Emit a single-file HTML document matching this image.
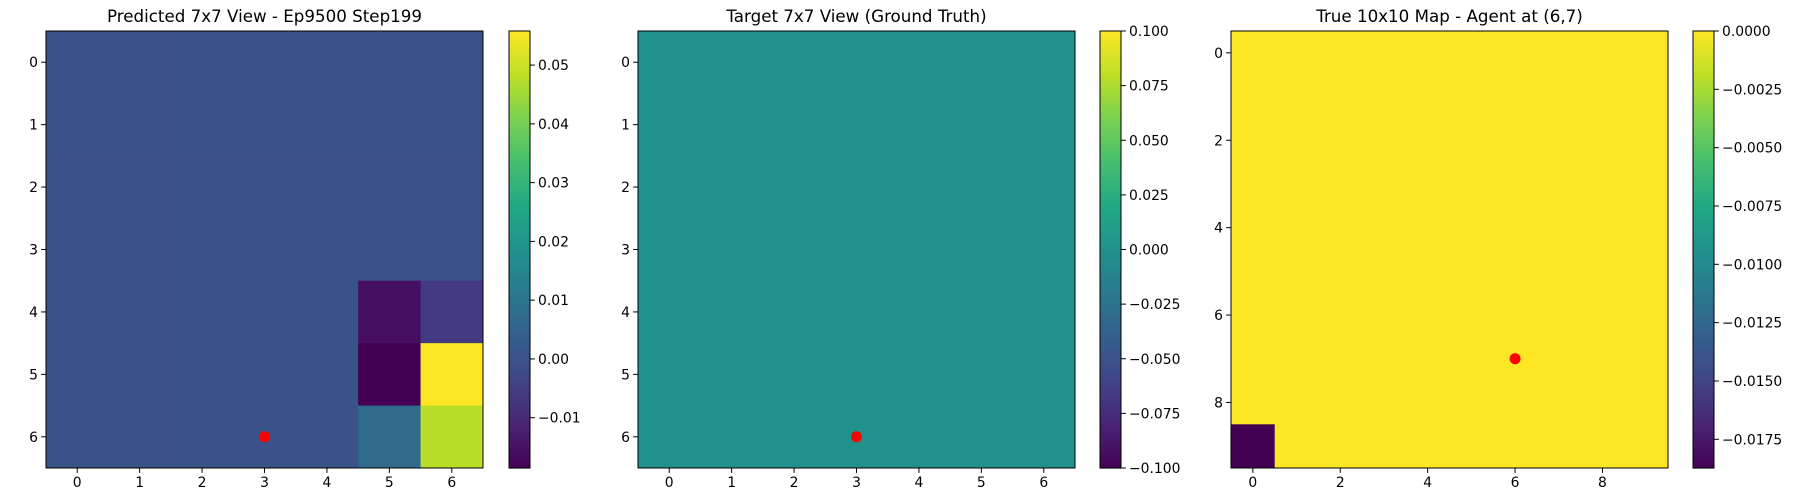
<!DOCTYPE html>
<html><head><meta charset="utf-8"><style>
html,body{margin:0;padding:0;background:#fff}
svg{display:block}
text{font-family:"DejaVu Sans","Liberation Sans",sans-serif;fill:#000}
</style></head><body>
<svg id="fig" width="1800" height="500" viewBox="0 0 1800 500" xmlns="http://www.w3.org/2000/svg"></svg>
<script>
// Panel 1: predicted 7x7 view
const predValues = [
 [0,0,0,0,0,0,0],
 [0,0,0,0,0,0,0],
 [0,0,0,0,0,0,0],
 [0,0,0,0,0,0,0],
 [0,0,0,0,0,-0.0155,-0.006],
 [0,0,0,0,0,-0.0186,0.0558],
 [0,0,0,0,0,0.0072,0.048]
];
const predTicks = [-0.01,0,0.01,0.02,0.03,0.04,0.05];
const predTickLabels = ["−0.01","0.00","0.01","0.02","0.03","0.04","0.05"];
const predAgent = [3,6];
// Panel 2: target 7x7 view
const targetValues = [
 [0,0,0,0,0,0,0],[0,0,0,0,0,0,0],[0,0,0,0,0,0,0],[0,0,0,0,0,0,0],
 [0,0,0,0,0,0,0],[0,0,0,0,0,0,0],[0,0,0,0,0,0,0]
];
const targetTicks = [-0.1,-0.075,-0.05,-0.025,0,0.025,0.05,0.075,0.1];
const targetTickLabels = ["−0.100","−0.075","−0.050","−0.025","0.000","0.025","0.050","0.075","0.100"];
const targetAgent = [3,6];
// Panel 3: true 10x10 map
const mapValues = [];
for (let r=0;r<10;r++){ mapValues.push([0,0,0,0,0,0,0,0,0,0]); }
mapValues[9][0] = -0.01873;
const mapTicks = [-0.0175,-0.015,-0.0125,-0.01,-0.0075,-0.005,-0.0025,0];
const mapTickLabels = ["−0.0175","−0.0150","−0.0125","−0.0100","−0.0075","−0.0050","−0.0025","0.0000"];
const mapAgent = [6,7];

const VIR = ["#440154","#482475","#414487","#355f8d","#2a788e","#21918c","#22a884","#44bf70","#7ad151","#bddf26","#fde725"];
function hex(h){return [1,3,5].map(i=>parseInt(h.substr(i,2),16));}
function viridis(t){
  t=Math.max(0,Math.min(1,t));
  const p=t*10,i=Math.min(9,Math.floor(p)),f=p-i;
  const a=hex(VIR[i]),b=hex(VIR[i+1]);
  return "rgb("+a.map((v,k)=>Math.round(v+(b[k]-v)*f)).join(",")+")";
}
const NS="http://www.w3.org/2000/svg";
const fig=document.getElementById("fig");
function mk(tag,attrs,parent,txt){
  const e=document.createElementNS(NS,tag);
  for(const k in attrs)e.setAttribute(k,attrs[k]);
  if(txt!==undefined)e.textContent=txt;
  (parent||fig).appendChild(e);return e;
}
function panel(o){
  const g=mk("g",{});
  
  
  const n=o.values.length, L=o.x, T=31, S=437, B=T+S, cs=S/n;
  const vmin=o.vmin, vmax=o.vmax;
  const xs=c=>L+(c+0.5)*cs, ys=r=>T+(r+0.5)*cs;
  for(let r=0;r<n;r++)for(let c=0;c<n;c++){
    const rc=mk("rect",{x:L+c*cs,y:T+r*cs,width:cs+0.5,height:cs+0.5,fill:viridis((o.values[r][c]-vmin)/(vmax-vmin))},g);
    
    
  }
  const dot=mk("circle",{cx:xs(o.agent[0]),cy:ys(o.agent[1]),r:5.5,fill:"#ff0000"},g);
  
  
  mk("rect",{x:L,y:T,width:S,height:S,fill:"none",stroke:"#000","stroke-width":1},g);
  const step=o.tickStep;
  for(let i=0;i<n;i+=step){
    mk("line",{x1:xs(i),x2:xs(i),y1:B,y2:B+4.9,stroke:"#000","stroke-width":1},g);
    const tx=mk("text",{x:xs(i),y:B+19,"font-size":"13.9","text-anchor":"middle"},g,String(i));
    
    
    mk("line",{x1:L-4.9,x2:L,y1:ys(i),y2:ys(i),stroke:"#000","stroke-width":1},g);
    const ty=mk("text",{x:L-8,y:ys(i)+5,"font-size":"13.9","text-anchor":"end"},g,String(i));
    
    
  }
  const t=mk("text",{x:L+S/2,y:22,"font-size":"16.7","text-anchor":"middle"},g,o.title);
  
  
  // colorbar
  const cb=mk("g",{},g);
  
  
  const CX=o.cbx, CW=21, N=120;
  for(let i=0;i<N;i++){
    mk("rect",{x:CX,y:T+S*(1-(i+1)/N),width:CW,height:S/N+0.6,fill:viridis((i+0.5)/N)},cb);
  }
  mk("rect",{x:CX,y:T,width:CW,height:S,fill:"none",stroke:"#000","stroke-width":1},cb);
  const cy=v=>B-(v-vmin)/(vmax-vmin)*S;
  o.ticks.forEach((v,i)=>{
    mk("line",{x1:CX+CW,x2:CX+CW+4.9,y1:cy(v),y2:cy(v),stroke:"#000","stroke-width":1},cb);
    const tl=mk("text",{x:CX+CW+8,y:cy(v)+5,"font-size":"13.9"},cb,o.tickLabels[i]);
    
    
  });
}
panel({name:"predicted-view-panel",title:"Predicted 7x7 View - Ep9500 Step199",x:46,cbx:509,values:predValues,vmin:-0.01856,vmax:0.0558,ticks:predTicks,tickLabels:predTickLabels,agent:predAgent,tickStep:1});
panel({name:"target-view-panel",title:"Target 7x7 View (Ground Truth)",x:638,cbx:1100,values:targetValues,vmin:-0.1,vmax:0.1,ticks:targetTicks,tickLabels:targetTickLabels,agent:targetAgent,tickStep:1});
panel({name:"true-map-panel",title:"True 10x10 Map - Agent at (6,7)",x:1231,cbx:1693,values:mapValues,vmin:-0.01873,vmax:0,ticks:mapTicks,tickLabels:mapTickLabels,agent:mapAgent,tickStep:2});
</script>
</body></html>
